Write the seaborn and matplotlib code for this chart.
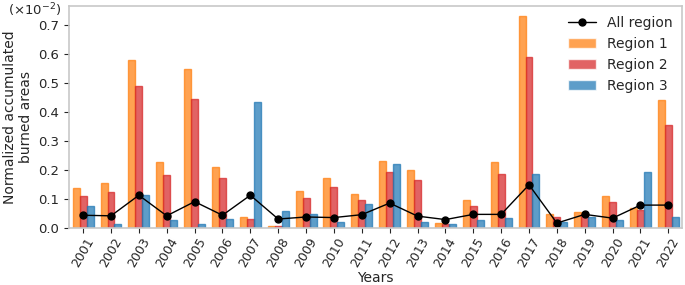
import pandas as pd
import matplotlib
matplotlib.use("Agg")
import matplotlib.pyplot as plt
import seaborn as sns

# values in units of 1e-2
years = list(range(2001, 2023))
region_1 = [0.138, 0.155, 0.579, 0.229, 0.550, 0.212, 0.037, 0.008, 0.128, 0.173, 0.117,
            0.230, 0.201, 0.017, 0.096, 0.228, 0.732, 0.047, 0.055, 0.110, 0.069, 0.442]
region_2 = [0.112, 0.125, 0.490, 0.184, 0.444, 0.171, 0.032, 0.008, 0.105, 0.142, 0.098,
            0.193, 0.164, 0.014, 0.076, 0.187, 0.590, 0.038, 0.047, 0.090, 0.062, 0.354]
region_3 = [0.077, 0.015, 0.114, 0.028, 0.015, 0.031, 0.434, 0.058, 0.049, 0.022, 0.084,
            0.221, 0.022, 0.014, 0.029, 0.036, 0.186, 0.022, 0.038, 0.027, 0.193, 0.039]
all_region = [0.044, 0.042, 0.113, 0.042, 0.091, 0.044, 0.113, 0.031, 0.038, 0.036, 0.046,
              0.086, 0.041, 0.029, 0.047, 0.047, 0.149, 0.017, 0.047, 0.034, 0.079, 0.079]

regions = ["Region 1", "Region 2", "Region 3"]
colors = ["tab:orange", "tab:red", "tab:blue"]

df = pd.DataFrame({"Years": [str(y) for y in years],
                   "Region 1": region_1, "Region 2": region_2, "Region 3": region_3})
long_df = df.melt(id_vars="Years", var_name="Region", value_name="value")

sns.set_style("ticks")
fig, ax = plt.subplots(figsize=(6.85, 2.85), dpi=100)
fig.subplots_adjust(left=0.101, right=0.996, bottom=0.2, top=0.978)

sns.barplot(data=long_df, x="Years", y="value", hue="Region", hue_order=regions,
            palette=colors, saturation=1, width=0.75, alpha=0.72, linewidth=1, ax=ax)
for bars, c in zip(ax.containers, colors):
    for b in bars:
        b.set_edgecolor(c)

ax.plot(range(len(years)), all_region, color="black", marker="o", markersize=5,
        linewidth=1, label="All region")

ax.set_ylim(0, 0.765)
ax.set_xlim(-0.5, len(years) - 0.5)
ax.set_yticks([0.0, 0.1, 0.2, 0.3, 0.4, 0.5, 0.6, 0.7])
ax.set_xlabel("Years", fontsize=10, labelpad=1)
ax.set_ylabel("Normalized accumulated\nburned areas", fontsize=10)
ax.tick_params(axis="x", labelrotation=60, labelsize=9, pad=2)
ax.tick_params(axis="y", labelsize=9.5)
for lab in ax.get_xticklabels():
    lab.set_ha("center")
for s in ax.spines.values():
    s.set_visible(True)
    s.set_color("#c8c8c8")
    s.set_linewidth(1.2)

fig.text(8 / 685, 1 - 10 / 285, r"($\times 10^{-2}$)", fontsize=9.5,
         va="center", ha="left")

handles, labels = ax.get_legend_handles_labels()
order = [labels.index(l) for l in ["All region"] + regions]
ax.legend([handles[i] for i in order], [labels[i] for i in order], loc="upper right",
          frameon=False, fontsize=10, handlelength=2, borderaxespad=0.3)

fig.savefig("out.png", dpi=100)
